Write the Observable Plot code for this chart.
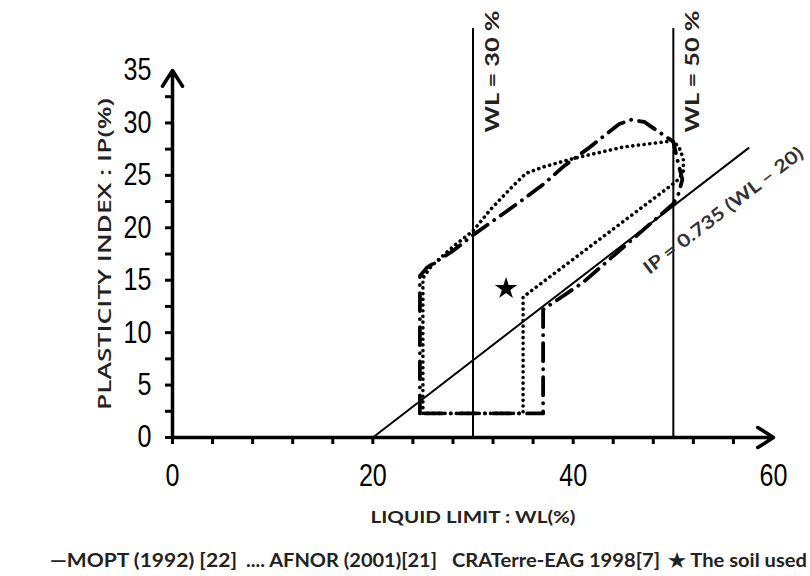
<!DOCTYPE html>
<html>
<head>
<meta charset="utf-8">
<script src="https://cdn.jsdelivr.net/npm/d3@7"></script>
<script src="https://cdn.jsdelivr.net/npm/@observablehq/plot@0.6"></script>
<style>
  html, body { margin: 0; padding: 0; background: #fff; }
  #chart { width: 810px; }
</style>
</head>
<body>
<div id="chart"></div>
<script>
// ---- data ----
const xTicks = [0, 4, 8, 12, 16, 20, 24, 28, 32, 36, 40, 44, 48, 52, 56];
const xTickLabels = [0, 20, 40, 60];
const yTicks = [0, 2.5, 5, 7.5, 10, 12.5, 15, 17.5, 20, 22.5, 25, 27.5, 30, 32.5];
const yTickLabels = [0, 5, 10, 15, 20, 25, 30, 35];

const xTitle = "LIQUID LIMIT : WL(%)";
const yTitle = "PLASTICITY INDEX : IP(%)";

// MOPT (1992): A-line IP = 0.735 (WL - 20) and WL limits
const moptWL = [20, 57.5];
const moptIP = [0, 27.6];
const moptLabel = "IP = 0.735 (WL \u2013 20)";
const wlLimits = [30, 50];
const wlLabels = ["WL = 30 %", "WL = 50 %"];
const wlTop = 39;

// AFNOR (2001) dotted zone
const afnorWL = [25, 25, 25.8, 28, 30, 31.8, 34, 35.3, 37, 40, 45, 50, 50.6, 51, 51, 50.6, 50, 35, 35, 25];
const afnorIP = [2.3, 15.2, 16.3, 18.2, 19.7, 21.8, 24, 25.2, 25.8, 26.6, 27.7, 28.3, 27.6, 26.6, 25.4, 24.7, 24.2, 13.4, 2.3, 2.3];

// CRATerre-EAG 1998 dash-dot zone
const cratWL = [24.7, 24.7, 25.4, 28, 30, 33.4, 35, 37.1, 39.1, 41.4, 44.6, 45.8, 47.1, 50, 50.4, 50.9, 50.5, 50, 41, 37, 37, 24.7];
const cratIP = [2.3, 15.4, 16.2, 17.8, 19.3, 21.6, 22.7, 24.2, 25.9, 27.5, 29.9, 30.3, 30.1, 28.2, 26.5, 24.6, 23.2, 22.3, 14.8, 12.2, 2.3, 2.3];

// The soil used
const soilWL = [33.3];
const soilIP = [14.2];

const legendItems = ["\u2014MOPT (1992) [22]", ".... AFNOR (2001)[21]", "CRATerre-EAG 1998[7]", "\u2605 The soil used"];

// ---- derived tables ----
const afnor = afnorWL.map((x, i) => ({x, y: afnorIP[i]}));
const crat = cratWL.map((x, i) => ({x, y: cratIP[i]}));
const mopt = moptWL.map((x, i) => ({x, y: moptIP[i]}));
const soil = soilWL.map((x, i) => ({x, y: soilIP[i]}));
const wl = wlLimits.map((x, i) => ({x, label: wlLabels[i]}));
const axesArrows = [
  {x1: 0, y1: 0, x2: xTickLabels[xTickLabels.length - 1], y2: 0},
  {x1: 0, y1: 0, x2: 0, y2: yTickLabels[yTickLabels.length - 1]}
];
const labelWL = 55;
const ipLabel = [{x: labelWL, y: 0.735 * (labelWL - 20), text: moptLabel}];

const bold = "Lato, 'Open Sans', sans-serif";

const chart = Plot.plot({
  width: 810,
  height: 540,
  marginLeft: 172,
  marginRight: 37,
  marginTop: 70,
  marginBottom: 103,
  x: {domain: [0, 60]},
  y: {domain: [0, 35]},
  style: {fontFamily: "'Liberation Sans', Arial, sans-serif", fontSize: "31px", background: "white", color: "black", overflow: "visible"},
  marks: [
    // minor ticks
    Plot.axisX(xTicks, {tickSize: 7, strokeWidth: 3, tickFormat: () => "", label: null}),
    Plot.axisY(yTicks, {tickSize: 7, strokeWidth: 3, tickFormat: () => "", label: null}),
    // tick labels
    Plot.axisX(xTickLabels, {tickSize: 0, tickPadding: 26, label: null}),
    Plot.axisY(yTickLabels, {tickSize: 0, tickPadding: 21, label: null}),
    // axis lines with arrows
    Plot.arrow(axesArrows, {x1: "x1", y1: "y1", x2: "x2", y2: "y2", stroke: "black", strokeWidth: 3.5, headLength: 8, headAngle: 65}),
    // WL limit lines
    Plot.ruleX(wl, {x: "x", y1: 0, y2: wlTop, stroke: "black", strokeWidth: 2}),
    Plot.text(wl, {x: "x", y: 35, text: "label", rotate: -90, dx: 20, dy: 1, fontFamily: bold, fontWeight: 700, fontSize: 18, fill: "#222"}),
    // MOPT line
    Plot.line(mopt, {x: "x", y: "y", stroke: "black", strokeWidth: 2}),
    Plot.text(ipLabel, {x: "x", y: "y", text: "text", rotate: -37.5, dy: 43, dx: 0, fontFamily: bold, fontWeight: 700, fontSize: 18, fill: "#333"}),
    // AFNOR dotted
    Plot.line(afnor, {x: "x", y: "y", stroke: "black", strokeWidth: 3.6, strokeDasharray: "0.1,5.6", strokeLinecap: "round", curve: "linear"}),
    // CRATerre dash-dot
    Plot.line(crat, {x: "x", y: "y", stroke: "black", strokeWidth: 3.8, strokeDasharray: "18,8,0.1,8", strokeLinecap: "round", curve: "linear"}),
    // soil used
    Plot.dot(soil, {x: "x", y: "y", symbol: "star", r: 7, fill: "black", stroke: "none"}),
    // axis titles
    Plot.text([xTitle], {frameAnchor: "bottom", dy: 85, text: d => d, fontFamily: bold, fontWeight: 700, fontSize: 17, fill: "#222"}),
    Plot.text([yTitle], {frameAnchor: "left", textAnchor: "middle", dx: -67, rotate: -90, text: d => d, fontFamily: "'Open Sans', sans-serif", fontWeight: 600, fontSize: 18, fill: "#222"})
  ]
});

// fine-tune text lengths
const svgSel = d3.select(chart);
const setLen = (txt, len) => svgSel.selectAll("text").filter(function() { return this.textContent === txt; })
  .attr("textLength", len).attr("lengthAdjust", "spacingAndGlyphs");
setLen(yTitle, 312);
setLen(xTitle, 205);
wlLabels.forEach(t => setLen(t, 122));
setLen(moptLabel, 196);

document.getElementById("chart").appendChild(chart);

// condensed tick labels (narrow face look)
svgSel.selectAll("g[aria-label='x-axis tick label'] text, g[aria-label='y-axis tick label'] text")
  .each(function() {
    const w = this.getComputedTextLength();
    if (w > 0) d3.select(this).attr("textLength", w * 0.81).attr("lengthAdjust", "spacingAndGlyphs");
  });

// legend below the plot
const legendStarts = [50, 246, 452, 668];
const legendEnds = [237, 437, 660, 807];
const legend = d3.create("svg").attr("width", 810).attr("height", 36).style("display", "block");
legend.selectAll("text").data(legendItems).join("text")
  .attr("x", (d, i) => legendStarts[i])
  .attr("y", 27)
  .attr("textLength", (d, i) => legendEnds[i] - legendStarts[i])
  .attr("lengthAdjust", "spacingAndGlyphs")
  .attr("font-family", bold)
  .attr("font-weight", 700)
  .attr("font-size", 19)
  .attr("fill", "#222")
  .text(d => d);
document.getElementById("chart").appendChild(legend.node());
</script>
</body>
</html>
